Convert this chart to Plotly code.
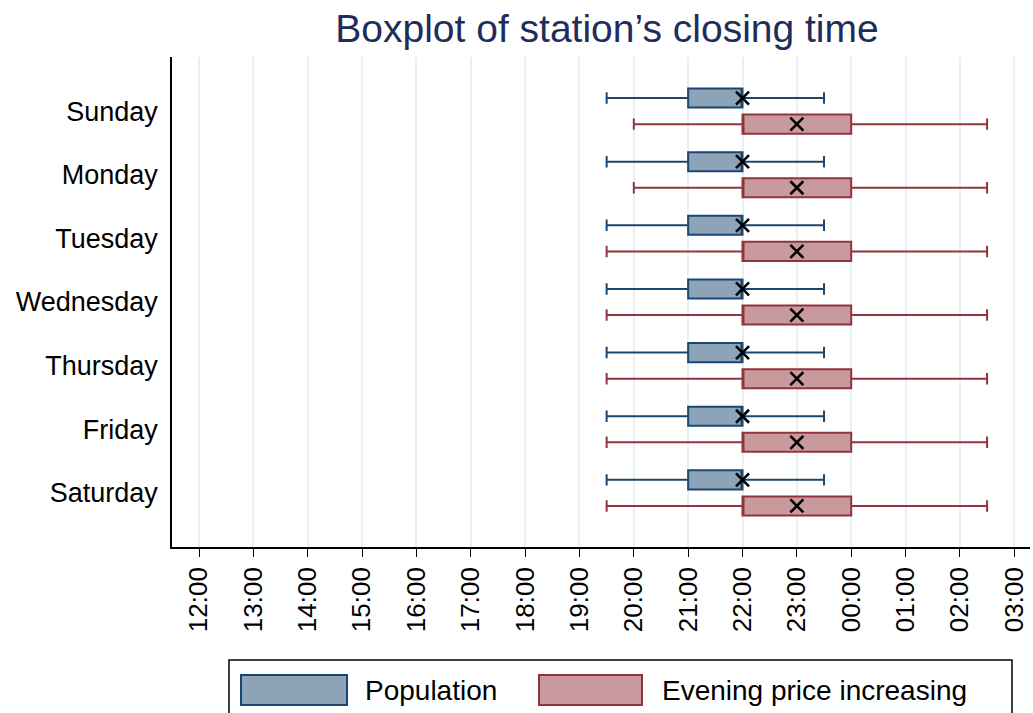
import plotly.graph_objects as go

# ---------------- data ----------------
days = ["Sunday", "Monday", "Tuesday", "Wednesday", "Thursday", "Friday", "Saturday"]

# times in decimal hours; after midnight expressed as 24+h
pop_low = [19.5, 19.5, 19.5, 19.5, 19.5, 19.5, 19.5]
pop_q1 = [21, 21, 21, 21, 21, 21, 21]
pop_med = [22, 22, 22, 22, 22, 22, 22]
pop_q3 = [22, 22, 22, 22, 22, 22, 22]
pop_high = [23.5, 23.5, 23.5, 23.5, 23.5, 23.5, 23.5]
pop_mean = [22, 22, 22, 22, 22, 22, 22]

eve_low = [20, 20, 19.5, 19.5, 19.5, 19.5, 19.5]
eve_q1 = [22, 22, 22, 22, 22, 22, 22]
eve_med = [22, 22, 22, 22, 22, 22, 22]
eve_q3 = [24, 24, 24, 24, 24, 24, 24]
eve_high = [26.5, 26.5, 26.5, 26.5, 26.5, 26.5, 26.5]
eve_mean = [23, 23, 23, 23, 23, 23, 23]

tick_hours = list(range(12, 28))
tick_labels = ["12:00", "13:00", "14:00", "15:00", "16:00", "17:00", "18:00", "19:00",
               "20:00", "21:00", "22:00", "23:00", "00:00", "01:00", "02:00", "03:00"]

series_names = ["Population", "Evening price increasing"]

# ---------------- style ----------------
NAVY = "#1a476f"
NAVY_F = "#8ca3b8"
MAROON = "#90353b"
MAROON_F = "#c89a9d"
FONT = "Liberation Sans"
OFF = 0.205

idx = list(range(len(days)))
pop_pos = [i - OFF for i in idx]
eve_pos = [i + OFF for i in idx]

fig = go.Figure()

def add_box(pos, q1, med, q3, lo, hi, name, lc, fc):
    fig.add_trace(go.Box(
        orientation="h", y=pos, q1=q1, median=med, q3=q3,
        lowerfence=lo, upperfence=hi, name=name,
        width=0.3, whiskerwidth=0.6, boxpoints=False,
        fillcolor=fc, line=dict(color=lc, width=2), showlegend=False,
        hoverinfo="skip",
    ))

add_box(pop_pos, pop_q1, pop_med, pop_q3, pop_low, pop_high, series_names[0], NAVY, NAVY_F)
add_box(eve_pos, eve_q1, eve_med, eve_q3, eve_low, eve_high, series_names[1], MAROON, MAROON_F)

for pos, mean in ((pop_pos, pop_mean), (eve_pos, eve_mean)):
    fig.add_trace(go.Scatter(
        x=mean, y=pos, mode="markers", showlegend=False,
        marker=dict(symbol="x-thin", size=13, line=dict(color="black", width=2.6)),
        hoverinfo="skip",
    ))

W, H = 1033, 713
L, R, T, B = 172, 1030, 57, 547

def px(xp):
    return (xp - L) / (R - L)

def py(yp):
    return (B - yp) / (B - T)

shapes = []
annotations = []
# custom legend
shapes.append(dict(type="rect", xref="paper", yref="paper", x0=px(229), x1=px(1012),
                   y0=py(722), y1=py(660), line=dict(color="black", width=1.5),
                   fillcolor="white", layer="above"))
legend_items = [(241, 347, 363, NAVY, NAVY_F), (539, 642, 660, MAROON, MAROON_F)]
for name, (x0, x1, tx, lc, fc) in zip(series_names, legend_items):
    shapes.append(dict(type="rect", xref="paper", yref="paper", x0=px(x0), x1=px(x1),
                       y0=py(705), y1=py(675), line=dict(color=lc, width=2),
                       fillcolor=fc, layer="above"))
    annotations.append(dict(xref="paper", yref="paper", x=px(tx), y=py(690),
                            xanchor="left", yanchor="middle", showarrow=False,
                            text=name, font=dict(family=FONT, size=28, color="black")))

fig.update_layout(
    width=W, height=H,
    margin=dict(l=L, r=W - R, t=T, b=H - B, pad=0),
    paper_bgcolor="white", plot_bgcolor="white",
    title=dict(text="Boxplot of station\u2019s closing time", xref="container", x=607 / W,
               xanchor="center", y=1 - 28 / H, yanchor="middle",
               font=dict(family=FONT, size=39, color="#1e2d5a")),
    font=dict(family=FONT, color="black"),
    shapes=shapes, annotations=annotations,
    showlegend=False,
)

fig.update_xaxes(
    range=[12 - (199 - L) / 54.35, 12 + (R - 199) / 54.35],
    tickvals=tick_hours, ticktext=tick_labels, tickangle=-90,
    ticks="outside", ticklen=8, tickcolor="black", tickwidth=1,
    showline=True, linecolor="black", linewidth=1.5,
    showgrid=True, gridcolor="#e8f1f2", gridwidth=2,
    zeroline=False, tickfont=dict(family=FONT, size=26, color="black"),
)
fig.update_yaxes(
    range=[6.85, -0.85], tickvals=idx, ticktext=days,
    ticks="", showline=True, linecolor="black", linewidth=1.5,
    showgrid=False, zeroline=False, ticklabelstandoff=7,
    tickfont=dict(family=FONT, size=27, color="black"),
)

fig.write_html("out.html", config={"displayModeBar": False},
               post_script="document.body.style.margin='0';document.body.style.overflow='hidden';")
